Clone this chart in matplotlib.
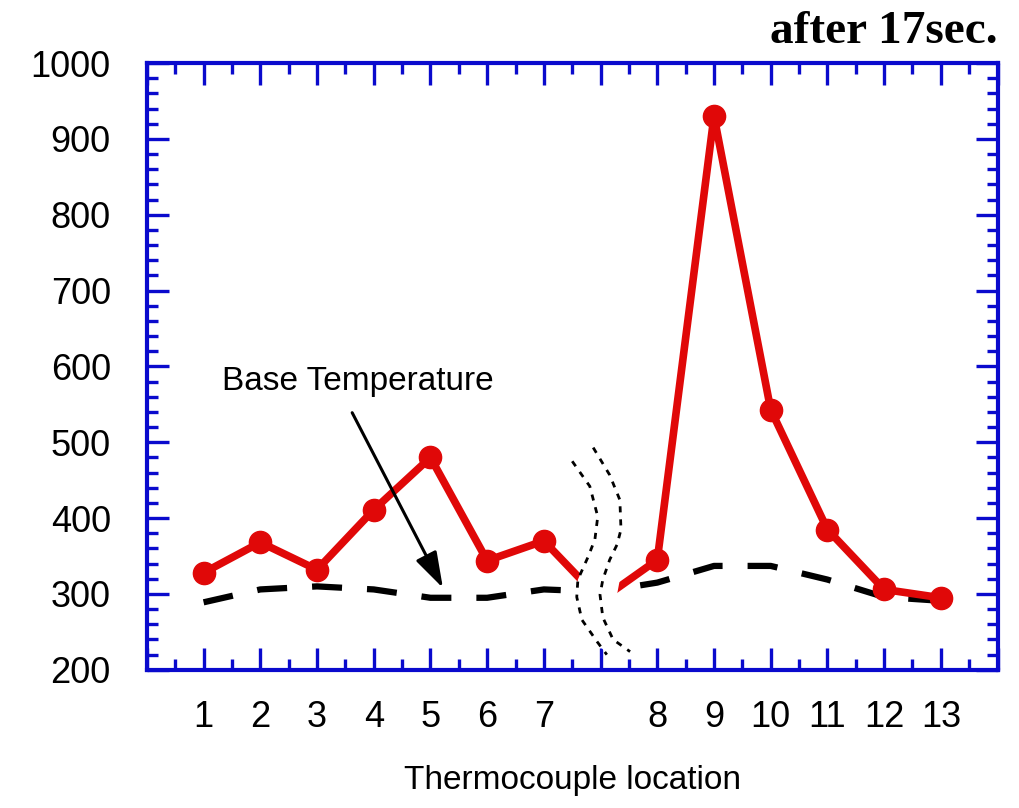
import matplotlib
matplotlib.use("Agg")
import matplotlib.pyplot as plt
from matplotlib.ticker import MultipleLocator
import numpy as np

# thermocouple readings after 17 sec
locations = list(range(1, 14))
temp_17s = [328, 368, 332, 411, 480, 344, 370, 345, 930, 543, 385, 306, 295]
base_temp = [289, 306, 310, 306, 295, 295, 306, 315, 337, 337, 319, 296, 291]

# values where the lines cross the axis break (between 7 and 8)
temp_at_break = 292
base_at_break = 303

# shape of the break symbol, x relative to break position
break_left_dx = [-0.50, -0.19, -0.05, -0.10, -0.22, -0.40, -0.42, -0.33, -0.06, 0.11]
break_left_y = [475, 442, 402, 372, 349, 319, 296, 266, 237, 220]
break_right_dx = [-0.13, 0.16, 0.34, 0.36, 0.29, 0.16, 0.04, -0.01, 0.04, 0.22, 0.52]
break_right_y = [493, 457, 424, 385, 365, 345, 319, 299, 269, 240, 224]

blue = "#0a0acd"
red = "#e00808"

# leave one empty slot after location 7 for the break
gap_after = 7
xpos = [loc if loc <= gap_after else loc + 1 for loc in locations]
xbreak = gap_after + 1

# insert the break crossing into the lines
x_line = xpos[:gap_after] + [xbreak] + xpos[gap_after:]
t_line = temp_17s[:gap_after] + [temp_at_break] + temp_17s[gap_after:]
b_line = base_temp[:gap_after] + [base_at_break] + base_temp[gap_after:]

plt.rcParams['font.family'] = ['Liberation Sans', 'DejaVu Sans']

fig = plt.figure(figsize=(10.2, 8.08), dpi=100)
ax = fig.add_axes([0.144, 0.171, 0.834, 0.751])

ax.plot(x_line, b_line, color="black", lw=4.5, linestyle=(0, (4.8, 4.0)),
        dash_capstyle="butt", zorder=2)
ax.plot(x_line, t_line, color=red, lw=5.5, zorder=3)
ax.plot(xpos, temp_17s, 'o', color=red, ms=16, zorder=4)

# white mask over the break
lx = [xbreak + d for d in break_left_dx]
rx = [xbreak + d + 0.3 for d in break_right_dx]
poly_x = lx + rx[::-1]
poly_y = break_left_y + break_right_y[::-1]
ax.fill(poly_x, poly_y, color="white", zorder=5, lw=0)
ax.plot(lx, break_left_y, color="black", lw=2, linestyle=(0, (2.2, 2.5)), zorder=6)
ax.plot([xbreak + d for d in break_right_dx], break_right_y, color="black", lw=2,
        linestyle=(0, (2.2, 2.5)), zorder=6)

# annotation
ax.text(3.72, 580, "Base Temperature", fontsize=24, ha="center", va="center", zorder=7)
ax.annotate("", xy=(5.22, 308), xytext=(3.62, 539), zorder=7,
            arrowprops=dict(arrowstyle="-|>,head_length=1.1,head_width=0.35",
                            mutation_scale=20, color="black", lw=2.2,
                            shrinkA=0, shrinkB=0))

ax.set_xlim(0, 15)
ax.set_ylim(200, 1000)

ax.set_xticks(range(0, 16))
labels = [""] * 16
for loc, p in zip(locations, xpos):
    labels[p] = str(loc)
ax.set_xticklabels(labels)
ax.xaxis.set_minor_locator(MultipleLocator(0.5))
ax.yaxis.set_major_locator(MultipleLocator(100))
ax.yaxis.set_minor_locator(MultipleLocator(20))

ax.tick_params(which="both", direction="in", top=True, right=True, color=blue, width=2.4)
ax.tick_params(which="major", length=16)
ax.tick_params(which="minor", length=8)
ax.tick_params(axis="x", which="major", labelsize=26, pad=22)
ax.tick_params(axis="y", which="major", labelsize=26, pad=26)

for sp in ax.spines.values():
    sp.set_color(blue)
    sp.set_linewidth(3)

ax.set_xlabel("Thermocouple location", fontsize=24, labelpad=21)
fig.text(0.978, 0.947, "after 17sec.", ha="right", va="baseline",
         fontsize=34, fontweight="bold", family="Liberation Serif")

fig.savefig("out.png", dpi=100)
